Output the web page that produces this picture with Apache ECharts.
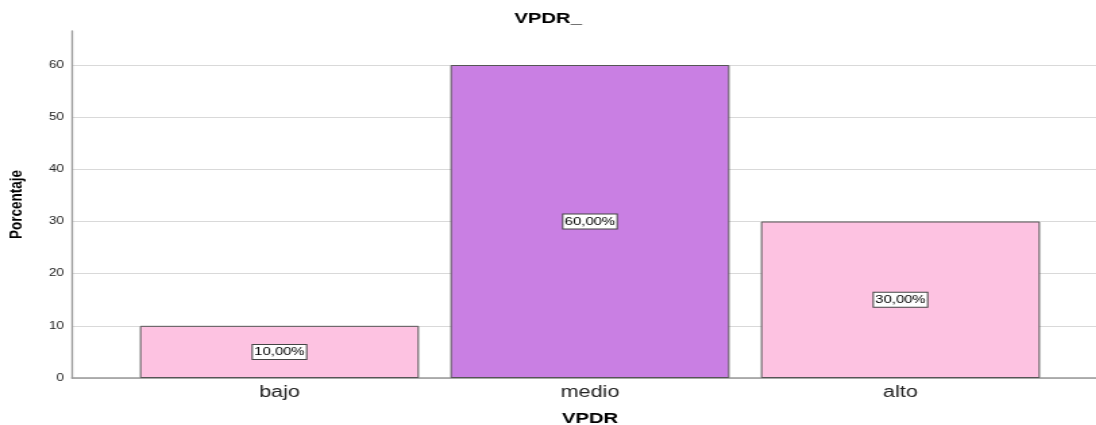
<!DOCTYPE html>
<html><head><meta charset="utf-8">
<script src="https://cdn.jsdelivr.net/npm/echarts@6/dist/echarts.min.js"></script>
<style>
html,body{margin:0;padding:0;background:#fff;overflow:hidden;width:1096px;height:425px}
#c{width:812px;height:425px;transform:scaleX(1.35);transform-origin:0 0}
</style>
</head><body><div id="c"></div>
<script>
const categories = ['bajo', 'medio', 'alto'];
const values = [10, 60, 30];
const barColors = ['#fdc2e1', '#c97fe3', '#fdc2e1'];
const labelTexts = ['10,00%', '60,00%', '30,00%'];
const yTicks = [0, 10, 20, 30, 40, 50, 60];

const chart = echarts.init(document.getElementById('c'), null, {renderer: 'canvas'});
const F = 'Arial, "Liberation Sans", sans-serif';
chart.setOption({
  animation: false,
  backgroundColor: '#fff',
  title: {text: 'VPDR_', left: 'center', top: 6, textStyle: {fontFamily: F, fontSize: 15, fontWeight: 'bold', color: '#000'}},
  grid: [
    {left: 53.3, right: 0, top: 31, bottom: 47, containLabel: false, outerBoundsMode: 'none'},
    {left: 53.3, right: 0, top: 65, bottom: 47, containLabel: false, outerBoundsMode: 'none'},
    {left: 92, right: 30, top: 65, bottom: 47, containLabel: false, outerBoundsMode: 'none'}
  ],
  xAxis: [
    {gridIndex: 0, type: 'value', min: 0, max: 1, axisLine: {show: true, lineStyle: {color: '#999', width: 1.5}}, axisTick: {show: false}, axisLabel: {show: false}, splitLine: {show: false}},
    {gridIndex: 1, type: 'value', min: 0, max: 1, show: false},
    {gridIndex: 2, type: 'category', data: categories, axisLine: {show: false}, axisTick: {show: false},
     axisLabel: {fontFamily: F, fontSize: 16, color: '#222', margin: 7},
     name: 'VPDR', nameLocation: 'middle', nameGap: 33, nameTextStyle: {fontFamily: F, fontSize: 15, fontWeight: 'bold', color: '#000'}}
  ],
  yAxis: [
    {gridIndex: 0, type: 'value', min: 0, max: 66.5, axisLine: {show: true, lineStyle: {color: '#999', width: 1.3}}, axisTick: {show: false}, axisLabel: {show: false}, splitLine: {show: false},
     name: 'Porcentaje', nameLocation: 'middle', nameGap: 34, nameTextStyle: {fontFamily: F, fontSize: 13.5, fontWeight: 'bold', color: '#000'}},
    {gridIndex: 1, type: 'value', min: yTicks[0], max: yTicks[yTicks.length - 1], interval: 10, axisLine: {show: false}, axisTick: {show: false},
     axisLabel: {fontFamily: F, fontSize: 10, color: '#222', margin: 6},
     splitLine: {show: true, lineStyle: {color: '#d9d9d9', width: 1}}},
    {gridIndex: 2, type: 'value', min: 0, max: 60, show: false}
  ],
  series: [{
    type: 'bar', xAxisIndex: 2, yAxisIndex: 2,
    barWidth: 206.7,
    data: values.map((v, i) => ({value: v, itemStyle: {color: barColors[i]}, label: {formatter: labelTexts[i]}})),
    itemStyle: {borderColor: '#555', borderWidth: 1},
    label: {show: true, position: 'inside', fontFamily: F, fontSize: 11, color: '#000', backgroundColor: '#fff', borderColor: '#444', borderWidth: 1, padding: [2, 1, 1, 1]}
  }]
});
</script></body></html>
